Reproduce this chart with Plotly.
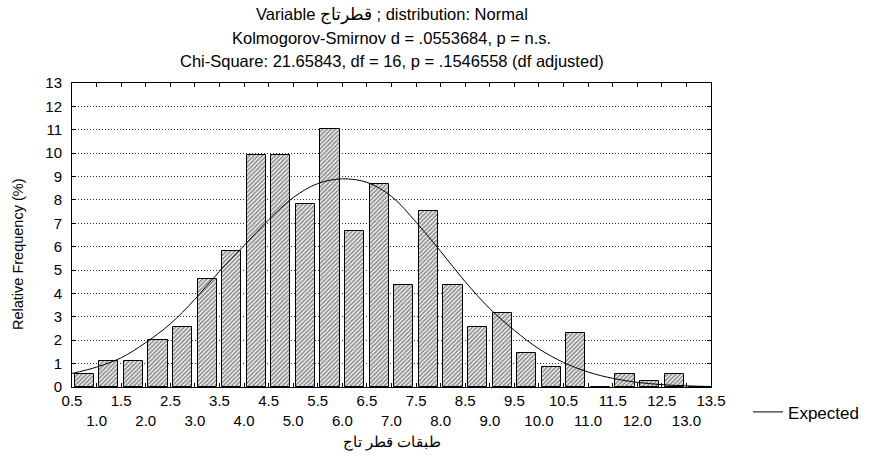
import plotly.graph_objects as go

# ---- data ----
bin_left = [0.5, 1.0, 1.5, 2.0, 2.5, 3.0, 3.5, 4.0, 4.5, 5.0, 5.5, 6.0, 6.5,
            7.0, 7.5, 8.0, 8.5, 9.0, 9.5, 10.0, 10.5, 11.0, 11.5, 12.0, 12.5, 13.0]
rel_freq = [0.57, 1.13, 1.13, 2.03, 2.58, 4.62, 5.80, 9.90, 9.90, 7.84, 11.02, 6.66, 8.68,
            4.36, 7.51, 4.36, 2.58, 3.18, 1.44, 0.86, 2.30, 0.0, 0.57, 0.27, 0.57, 0.0]

curve_x = [0.5, 1.0, 1.5, 2.0, 2.5, 3.0, 3.5, 4.0, 4.5, 5.0, 5.5, 6.0, 6.5, 7.0,
           7.5, 8.0, 8.5, 9.0, 9.5, 10.0, 10.5, 11.0, 11.5, 12.0, 12.5, 13.0, 13.5]
curve_y = [0.58, 0.85, 1.25, 1.9, 2.7, 3.75, 4.95, 6.05, 7.15, 8.1, 8.7, 8.9, 8.75, 8.15,
           7.05, 5.8, 4.5, 3.35, 2.42, 1.63, 1.05, 0.64, 0.37, 0.2, 0.1, 0.05, 0.02]

tick_vals = [0.5 + 0.5 * i for i in range(27)]
tick_text = [("%.1f" % v) if i % 2 == 0 else ("<br>%.1f" % v) for i, v in enumerate(tick_vals)]
y_ticks = list(range(0, 14))

title_lines = [
    "Variable قطرتاج ; distribution: Normal",
    "Kolmogorov-Smirnov d = .0553684, p = n.s.",
    "Chi-Square: 21.65843, df = 16, p = .1546558 (df adjusted)",
]
x_title = "طبقات قطر تاج"
y_title = "Relative Frequency (%)"
legend_name = "Expected"

FONT = "Liberation Sans, Arial, sans-serif"
bin_w = 0.5
centers = [b + bin_w / 2 for b in bin_left]

fig = go.Figure()
fig.add_trace(go.Bar(
    x=centers, y=rel_freq, width=0.39, showlegend=False,
    marker=dict(color="white", line=dict(color="black", width=1),
                pattern=dict(shape="/", fgcolor="#222222", bgcolor="white",
                             size=3, solidity=0.6)),
))
fig.add_trace(go.Scatter(
    x=curve_x, y=curve_y, mode="lines", name=legend_name,
    line=dict(color="black", width=1, shape="spline", smoothing=1.0),
))

W, H = 870, 457
L, R, T, B = 72, 159, 83, 70
fig.update_layout(
    width=W, height=H,
    margin=dict(l=L, r=R, t=T, b=B, autoexpand=False),
    paper_bgcolor="white", plot_bgcolor="white",
    font=dict(family=FONT, size=14, color="black"),
    bargap=0,
    showlegend=True,
    legend=dict(x=1.058, y=-0.0834, xanchor="left", yanchor="middle",
                bgcolor="rgba(0,0,0,0)", font=dict(size=17)),
    xaxis=dict(range=[0.5, 13.5], tickmode="array", tickvals=tick_vals, ticktext=tick_text,
               ticks="inside", ticklen=4, tickcolor="black", showgrid=False, zeroline=False,
               showline=True, linecolor="black", linewidth=1, mirror="ticks",
               tickfont=dict(size=15), tickangle=0),
    yaxis=dict(range=[0, 13], tickmode="array", tickvals=y_ticks,
               ticks="inside", ticklen=4, tickcolor="black", ticklabelstandoff=6,
               showgrid=True, gridcolor="#333333", griddash="1px,2px", gridwidth=1,
               zeroline=False, showline=True, linecolor="black", linewidth=1, mirror="ticks",
               tickfont=dict(size=15)),
)

ann = []
for i, line in enumerate(title_lines):
    ann.append(dict(text=line, xref="paper", yref="paper", x=0.5, y=1 + (83 - (15 + 23 * i)) / 304,
                    xanchor="center", yanchor="middle", showarrow=False,
                    font=dict(size=16.5, family=FONT)))
ann.append(dict(text=x_title, xref="paper", yref="paper", x=0.5, y=-(442 - 387) / 304,
                xanchor="center", yanchor="middle", showarrow=False, font=dict(size=14.5, family=FONT)))
ann.append(dict(text=y_title, xref="paper", yref="paper", x=-(72 - 18) / 639, y=(387 - 254) / 304,
                xanchor="center", yanchor="middle", showarrow=False, textangle=-90,
                font=dict(size=14.5, family=FONT)))
fig.update_layout(annotations=ann)

fig.write_html("out.html", config={"displayModeBar": False},
               post_script="document.body.style.margin='0';")
